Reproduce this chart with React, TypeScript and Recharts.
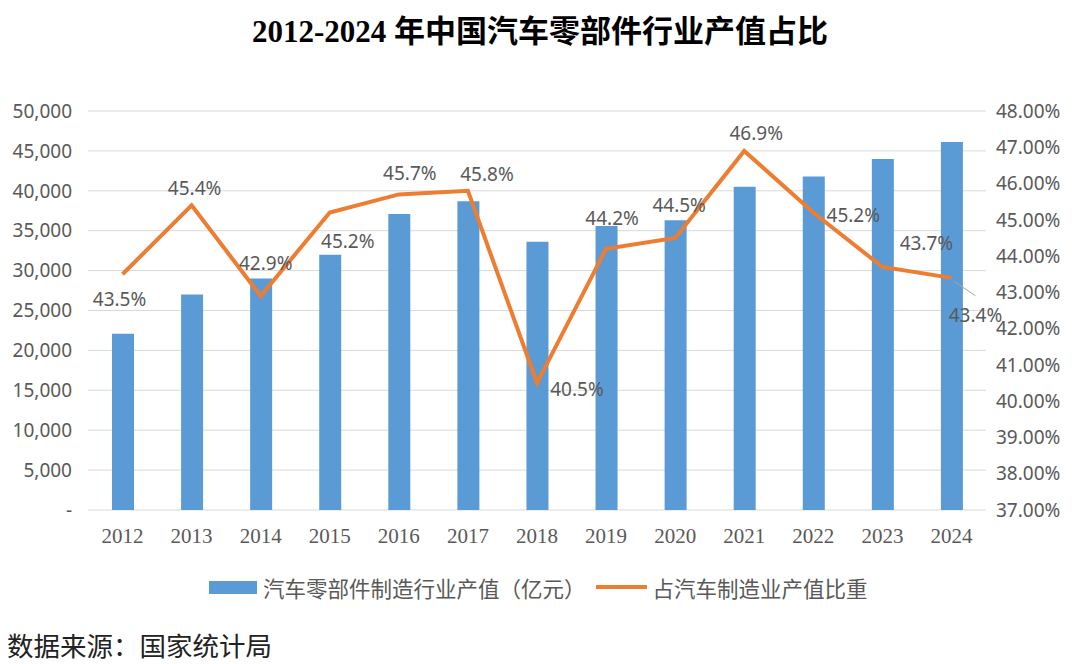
import React from "react";
import { ComposedChart, Bar, Line, XAxis, YAxis, CartesianGrid, LabelList } from "recharts";

const years = ["2012", "2013", "2014", "2015", "2016", "2017", "2018", "2019", "2020", "2021", "2022", "2023", "2024"];
// 汽车零部件制造行业产值（亿元）
const outputValues = [22100, 27000, 29000, 32000, 37100, 38700, 33600, 35600, 36300, 40500, 41800, 44000, 46100];
// 占汽车制造业产值比重 (%)
const shareValues = [43.5, 45.4, 42.9, 45.2, 45.7, 45.8, 40.5, 44.2, 44.5, 46.9, 45.2, 43.7, 43.4];
const leftTicks = [0, 5000, 10000, 15000, 20000, 25000, 30000, 35000, 40000, 45000, 50000];
const rightTicks = [37, 38, 39, 40, 41, 42, 43, 44, 45, 46, 47, 48];

// where each percentage label sits relative to its point
const labelOffsets = [
  [-3, 25], [3, -17], [5, -33], [18, 28], [11, -21], [19, -17], [40, 6],
  [6, -31], [4, -33], [12, -18], [40, 2], [44, -24], [24, 37]
];

const data = years.map((year, i) => ({ year, output: outputValues[i], share: shareValues[i] }));

const grey = "#595959";
const numFont = "'Noto Sans', 'DejaVu Sans', sans-serif";
const cjkFont = "'Noto Sans CJK SC', 'Noto Sans', sans-serif";

const ShareLabel = (props: any) => {
  const { x, y, value, index } = props;
  const [dx, dy] = labelOffsets[index] || [0, -18];
  return (
    <g>
      {index === years.length - 1 && (
        <line x1={x + 2} y1={y + 3} x2={x + 24} y2={y + 18} stroke="#A6A6A6" strokeWidth={1} />
      )}
      <text x={x + dx} y={y + dy} textAnchor="middle" dominantBaseline="central" fill={grey} fontSize={19} fontFamily={numFont}>
        {value.toFixed(1)}%
      </text>
    </g>
  );
};

const App: React.FC = () => {
  return (
    <div style={{ position: "absolute", left: 0, top: 0, width: 1080, height: 664, background: "#fff" }}>
      <div
        style={{
          position: "absolute", top: 9, left: 0, width: 1080, textAlign: "center", lineHeight: "46px",
          fontFamily: "'Liberation Serif', 'Noto Sans CJK SC', serif", fontWeight: "bold", fontSize: 31, color: "#000"
        }}
      >
        2012-2024 年中国汽车零部件行业产值占比
      </div>
      <div style={{ position: "absolute", left: 0, top: 0 }}>
        <ComposedChart width={1080} height={560} data={data} margin={{ top: 111, right: 0, left: 0, bottom: 10 }}>
          <CartesianGrid yAxisId="left" vertical={false} stroke="#D9D9D9" />
          <XAxis
            dataKey="year"
            axisLine={false}
            tickLine={false}
            tickSize={0}
            tickMargin={18}
            height={40}
            tick={{ fill: grey, fontSize: 21, fontFamily: "'Liberation Serif', serif" }}
          />
          <YAxis
            yAxisId="left"
            orientation="left"
            width={88}
            domain={[0, 50000]}
            ticks={leftTicks}
            axisLine={false}
            tickLine={false}
            tickSize={0}
            tickMargin={16}
            tickFormatter={(v: number) => (v === 0 ? "-" : v.toLocaleString("en-US"))}
            tick={{ fill: grey, fontSize: 19, fontFamily: numFont }}
          />
          <YAxis
            yAxisId="right"
            orientation="right"
            width={94}
            domain={[37, 48]}
            ticks={rightTicks}
            axisLine={false}
            tickLine={false}
            tickSize={0}
            tickMargin={10}
            tickFormatter={(v: number) => v.toFixed(2) + "%"}
            tick={{ fill: grey, fontSize: 19, fontFamily: numFont, textAnchor: "start" }}
          />
          <Bar yAxisId="left" dataKey="output" fill="#5B9BD5" barSize={22} isAnimationActive={false} />
          <Line
            yAxisId="right"
            type="linear"
            dataKey="share"
            stroke="#ED7D31"
            strokeWidth={4}
            dot={false}
            activeDot={false}
            isAnimationActive={false}
          >
            <LabelList dataKey="share" content={<ShareLabel />} />
          </Line>
        </ComposedChart>
      </div>
      <div
        style={{
          position: "absolute", top: 571, left: 209, height: 32, display: "flex",
          alignItems: "center", fontFamily: cjkFont, fontSize: 21.5, color: grey, whiteSpace: "nowrap"
        }}
      >
        <span style={{ display: "inline-block", width: 48, height: 13, background: "#5B9BD5", marginRight: 6 }} />
        <span>汽车零部件制造行业产值（亿元）</span>
        <span style={{ display: "inline-block", width: 51, height: 4, background: "#ED7D31", margin: "0 6px 0 10px" }} />
        <span>占汽车制造业产值比重</span>
      </div>
      <div style={{ position: "absolute", top: 625, left: 7, fontFamily: cjkFont, fontSize: 26.5, color: "#222" }}>
        数据来源：国家统计局
      </div>
    </div>
  );
};

export default App;
